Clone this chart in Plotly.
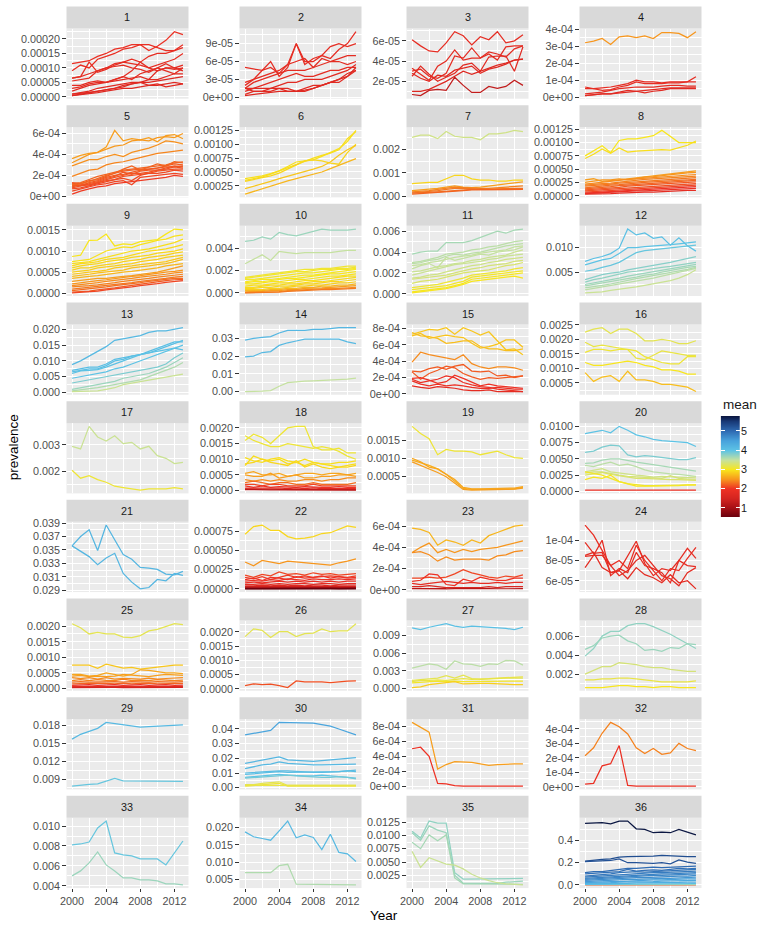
import plotly.graph_objects as go

YEARS = list(range(2000, 2014))

# ---------------- data (values in each panel's unit) ----------------
P1_UNIT = 1e-5
P1_MEAN = [1.95, 1.9, 1.85, 1.85, 1.8, 1.8, 1.75, 1.75, 1.7, 1.7, 1.75, 1.8]
P1_VALS = [
    [11.5, 12, 12.5, 14, 15, 16.5, 17, 18, 18, 16, 17.5, 19.5, 22.5, 21.5],
    [9, 11, 10, 13, 14, 15, 16.5, 17, 18, 18, 17, 16, 16, 18],
    [6.5, 7, 12, 8.5, 9.5, 11, 12, 13, 12, 14, 15, 15, 16, 17],
    [5.5, 6, 6.5, 9, 10, 11.5, 12, 11.5, 11, 10, 11, 12, 13, 15],
    [6.5, 7, 8, 9, 10, 10.5, 11, 10, 9.5, 8.5, 10, 11.5, 10, 11],
    [3, 3.5, 4.5, 5, 5, 6, 7, 9, 12, 10, 9, 10, 10, 9],
    [2, 3, 4, 4.5, 5, 5.5, 6, 6.5, 7, 6, 9, 10, 9.5, 10],
    [1, 1.5, 2, 3, 3.5, 4, 4.5, 5, 5, 6, 6, 7, 8, 8],
    [0.5, 1, 1.5, 2, 2.5, 3, 3.5, 4.5, 5, 5, 5.5, 6, 6.5, 7],
    [0.5, 0.8, 1, 1.5, 2, 2.5, 3, 3, 3.5, 4, 4, 4.5, 5, 4.5],
    [1, 1.2, 1.6, 2, 2.5, 3, 4, 4.5, 5, 4, 4.5, 3.5, 4, 4.5],
    [4, 4, 5, 5.5, 5, 6, 7, 6, 8, 9, 10, 9, 8, 10],
]
P1_TICKS = [0, 5e-5, 1e-4, 1.5e-4, 2e-4]
P1_LABELS = ["0.00000", "0.00005", "0.00010", "0.00015", "0.00020"]

P2_UNIT = 1e-5
P2_MEAN = [1.85, 1.85, 1.8, 1.8, 1.8, 1.75, 1.75, 1.75, 1.7]
P2_VALS = [
    [5, 4.8, 4.5, 5, 4, 5.5, 9, 6, 6, 7, 6.5, 8, 9, 11],
    [2.5, 3, 4.5, 6, 3.5, 5, 9, 5.5, 6.5, 7, 8.5, 9, 8.5, 9],
    [2, 3, 3.5, 4, 4.5, 5.5, 6, 6.5, 5, 6.5, 6, 6.5, 7, 7],
    [1.5, 2.5, 3, 3.5, 4, 4.5, 4.5, 4.5, 5, 5.5, 6, 6, 5.5, 6],
    [1.5, 1.5, 2, 2.5, 3, 3.5, 4, 3.5, 3.5, 4, 4.5, 4.5, 5, 5],
    [1, 1.5, 1.5, 1.5, 2, 2.5, 2.5, 3, 3, 3, 3.5, 4, 4.5, 5.5],
    [0.5, 1, 1, 1.5, 1.5, 1.5, 1, 1.5, 2, 2, 2.5, 3, 4, 4.5],
    [1.5, 1, 1, 1, 1.5, 1, 1, 1, 1.5, 2, 2.5, 2.5, 3.5, 4.5],
    [0.3, 0.5, 0.7, 0.8, 1, 1, 1, 1.2, 1.5, 2, 2.5, 3, 3.5, 5],
]
P2_TICKS = [0, 3e-5, 6e-5, 9e-5]
P2_LABELS = ["0e+00", "3e-05", "6e-05", "9e-05"]

P3_UNIT = 1e-5
P3_MEAN = [1.85, 1.8, 1.8, 1.75, 1.75, 1.7, 1.3]
P3_VALS = [
    [6.1, 5.5, 5, 4.9, 5.8, 6.9, 6.5, 5.6, 6.4, 6.1, 6.9, 5.8, 6, 6.6],
    [3.3, 2.7, 2.1, 3.5, 4, 5.1, 4.1, 4.3, 4.3, 4.7, 4.1, 5.4, 5.5, 5.5],
    [3, 3.2, 2.5, 2.3, 2.8, 4.5, 4.3, 5.3, 4.3, 4.9, 4.7, 4.4, 5.2, 5.5],
    [2.5, 3.5, 2.7, 2, 2.4, 2.8, 3.6, 3.8, 3, 4.4, 4.5, 4.5, 3, 5.4],
    [2.8, 2.3, 2, 2.6, 2.5, 3.1, 3.3, 3.5, 2.8, 3.2, 3.4, 3.7, 4.1, 4.2],
    [1, 1, 1.2, 1.6, 2, 2.5, 3, 2.7, 3, 3.3, 3.6, 3.8, 4.1, 4.2],
    [0.7, 0.6, 1.1, 1.2, 1.1, 2.4, 1.6, 0.9, 0.9, 1.5, 1.3, 1.5, 2.1, 1.6],
]
P3_TICKS = [2e-5, 4e-5, 6e-5]
P3_LABELS = ["2e-05", "4e-05", "6e-05"]

P4_UNIT = 1e-5
P4_MEAN = [2.5, 1.85, 1.85, 1.8, 1.75, 1.75]
P4_VALS = [
    [32, 33, 34.5, 31, 35.5, 36, 35, 36, 34.5, 38, 38, 37.5, 35, 38.5],
    [5, 5, 5.5, 6, 7, 8, 10, 9, 9, 8.5, 9, 9, 9, 12],
    [6, 5, 4, 4.5, 6, 7, 9, 8, 8, 8, 8.5, 8.5, 9, 9],
    [2, 2.5, 3, 4, 5, 5.5, 6, 6, 6, 6.5, 7, 7, 6.5, 6.5],
    [1, 1.5, 2, 2, 3, 4, 3.5, 2.5, 3.5, 4, 5, 5, 5, 5],
    [1, 1.5, 2, 2, 2.5, 3, 3.5, 4, 4.5, 5, 5.5, 5.5, 5.5, 5.5],
]
P4_TICKS = [0, 1e-4, 2e-4, 3e-4, 4e-4]
P4_LABELS = ["0e+00", "1e-04", "2e-04", "3e-04", "4e-04"]

P5_UNIT = 1e-4
P5_MEAN = [2.55, 2.52, 2.47, 2.42, 2.25, 2.22, 2.2, 2.18, 2.17, 2.15, 2.12, 2.1, 2.05, 2.25]
P5_VALS = [
    [3.6, 3.9, 4.1, 4.2, 4.7, 6.3, 5.3, 5.5, 5.4, 5.6, 5.2, 5.8, 5.9, 5.5],
    [3.2, 3.6, 4, 4.2, 4.5, 4.8, 4.9, 5.3, 5.4, 5.3, 5.6, 5.7, 5.6, 6.0],
    [2.9, 3.2, 3.5, 3.5, 3.8, 4.0, 3.8, 4.2, 4.4, 4.6, 4.9, 5.3, 5.2, 5.0],
    [1.9, 2.2, 2.5, 2.6, 3.0, 3.2, 3.3, 3.5, 3.7, 3.9, 4.1, 4.2, 4.3, 4.4],
    [1.2, 1.3, 1.6, 1.9, 2.1, 2.3, 2.5, 2.6, 2.7, 2.8, 2.9, 3.0, 3.2, 3.3],
    [1.0, 1.2, 1.5, 1.6, 1.9, 2.2, 2.4, 2.5, 2.6, 2.6, 2.7, 2.9, 3.1, 3.0],
    [1.1, 1.0, 1.3, 1.5, 1.8, 2.0, 2.1, 2.3, 2.5, 2.6, 2.7, 2.8, 2.8, 2.9],
    [0.9, 1.1, 1.2, 1.4, 1.7, 1.9, 2.3, 2.1, 2.4, 2.5, 2.5, 2.7, 2.9, 2.8],
    [1.3, 1.2, 1.1, 1.3, 1.6, 1.8, 2.0, 2.2, 2.2, 2.3, 2.5, 2.6, 2.8, 2.7],
    [0.8, 1.0, 1.1, 1.3, 1.5, 1.6, 1.9, 2.0, 2.1, 2.2, 2.4, 2.5, 2.6, 2.6],
    [0.7, 0.8, 1.0, 1.2, 1.4, 1.6, 1.7, 1.5, 2.0, 2.2, 2.2, 2.3, 2.5, 2.4],
    [0.5, 0.7, 0.9, 1.1, 1.2, 1.4, 1.5, 1.1, 1.8, 1.9, 2.0, 2.1, 2.2, 2.1],
    [0.2, 0.5, 0.7, 0.9, 1.0, 1.2, 1.3, 1.4, 1.5, 1.6, 1.7, 1.8, 2.0, 1.9],
    [1.1, 1.2, 1.4, 1.7, 2.0, 2.2, 2.6, 2.9, 2.5, 2.8, 3.1, 2.9, 3.3, 3.2],
]
P5_TICKS = [0, 2e-4, 4e-4, 6e-4]
P5_LABELS = ["0e+00", "2e-04", "4e-04", "6e-04"]

P6_UNIT = 1e-5
P6_MEAN = [2.97, 2.95, 2.9, 2.8, 2.7]
P6_VALS = [
    [38, 40, 43, 47, 52, 60, 68, 70, 72, 78, 85, 92, 105, 125],
    [35, 38, 41, 46, 52, 58, 64, 69, 75, 80, 84, 90, 110, 123],
    [33, 36, 39, 43, 48, 55, 62, 70, 72, 70, 66, 64, 85, 100],
    [20, 24, 28, 33, 38, 42, 46, 50, 55, 60, 68, 80, 90, 98],
    [10, 15, 20, 25, 30, 34, 38, 42, 46, 50, 56, 62, 68, 74],
]
P6_TICKS = [0.00025, 0.0005, 0.00075, 0.001, 0.00125]
P6_LABELS = ["0.00025", "0.00050", "0.00075", "0.00100", "0.00125"]

P7_UNIT = 1e-4
P7_MEAN = [3.4, 2.9, 2.55, 2.4, 2.35, 2.3, 2.25]
P7_VALS = [
    [25, 26, 26, 24.5, 27.5, 25.5, 25, 25, 24, 26.5, 26.5, 27, 28, 27.5],
    [5.5, 5.8, 6, 6, 7.5, 9, 9, 7.5, 7, 7, 6.5, 6.5, 7, 7],
    [2.5, 2.8, 3, 3.5, 4, 4.5, 4, 3.8, 4, 4.5, 5, 5.5, 6, 6.2],
    [2, 2.2, 2.5, 3, 3.5, 4, 3.8, 3.5, 3.5, 3.5, 3.8, 4, 4.2, 4.5],
    [1.5, 1.8, 2, 2.5, 3, 3.5, 3.5, 3.3, 3.2, 3, 3.2, 3.5, 3.5, 3.5],
    [1.5, 1.5, 1.8, 2, 2.3, 2.5, 2.8, 3, 3, 3, 3, 3, 3.2, 3.2],
    [1, 1.2, 1.5, 1.8, 2, 2.3, 2.5, 2.8, 2.8, 2.8, 3, 3, 3, 3],
]
P7_TICKS = [0, 0.001, 0.002]
P7_LABELS = ["0.000", "0.001", "0.002"]

P8_UNIT = 1e-5
P8_MEAN = [3.0, 2.95, 2.55, 2.5, 2.45, 2.4, 2.35, 2.3, 2.25, 2.2, 2.15, 2.1, 2.0, 1.95, 1.85]
P8_VALS = [
    [75, 85, 94, 81, 104, 107, 107, 110, 113, 123, 112, 100, 100, 100],
    [70, 78, 88, 80, 90, 82, 84, 85, 86, 87, 86, 90, 95, 103],
    [30, 32, 27, 28, 30, 32, 34, 36, 37, 39, 41, 43, 45, 47],
    [25, 28, 30, 30, 32, 30, 33, 35, 36, 38, 39, 41, 43, 44],
    [22, 24, 26, 28, 29, 31, 32, 33, 34, 35, 36, 38, 39, 40],
    [20, 22, 23, 24, 26, 28, 30, 31, 32, 33, 34, 35, 36, 37],
    [18, 19, 21, 22, 24, 25, 27, 28, 29, 30, 31, 32, 33, 34],
    [15, 17, 18, 20, 21, 23, 24, 25, 26, 27, 28, 29, 30, 31],
    [13, 14, 16, 17, 19, 20, 21, 23, 24, 25, 25, 27, 28, 29],
    [11, 12, 14, 15, 16, 18, 19, 20, 21, 22, 23, 24, 25, 26],
    [9, 10, 11, 13, 14, 15, 16, 17, 18, 19, 20, 21, 22, 23],
    [7, 8, 9, 10, 11, 12, 13, 14, 15, 16, 17, 18, 19, 20],
    [5, 6, 7, 8, 9, 10, 11, 12, 12, 13, 14, 15, 16, 17],
    [4, 5, 5, 6, 7, 8, 9, 9, 10, 11, 11, 12, 13, 14],
    [3, 3, 4, 4, 5, 6, 6, 7, 7, 8, 8, 9, 10, 10],
]
P8_TICKS = [0, 0.00025, 0.0005, 0.00075, 0.001, 0.00125]
P8_LABELS = ["0.00000", "0.00025", "0.00050", "0.00075", "0.00100", "0.00125"]

P9_UNIT = 1e-4
P9_MEAN = [3.0, 2.97, 2.95, 2.92, 2.9, 2.87, 2.85, 2.8, 2.75, 2.7, 2.55, 2.5, 2.45, 2.4, 2.35, 2.3, 2.2, 2.1]
P9_VALS = [
    [8.7, 9, 12.5, 12.6, 14, 11.2, 11.7, 11.5, 12.2, 12.5, 12.7, 14, 15.2, 15],
    [7.5, 7.8, 8, 9, 10, 10.5, 11, 10.8, 11.5, 12, 12.5, 12.8, 13.5, 13.8],
    [7, 7.2, 7.5, 8, 8.5, 9, 9.5, 10, 10.2, 10.5, 11, 11.5, 12, 12.8],
    [6.5, 7, 7.2, 7.5, 8, 8.2, 8.5, 9, 9.5, 10, 10.2, 10.5, 11, 11.5],
    [6, 6.5, 6.8, 7, 7.5, 7.8, 8, 8.5, 8.8, 9, 9.5, 9.8, 10, 10.5],
    [5.5, 6, 6, 6.5, 6.8, 7, 7.5, 7.8, 8, 8.5, 8.8, 9, 9.5, 9.8],
    [5, 5.2, 5.5, 6, 6.2, 6.5, 6.8, 7, 7.5, 7.8, 8, 8.5, 8.8, 9],
    [4.5, 4.8, 5, 5.2, 5.5, 6, 6.2, 6.5, 6.8, 7, 7.2, 7.5, 8, 8.5],
    [4, 4.2, 4.5, 4.8, 5, 5.2, 5.5, 6, 6.2, 6.5, 6.8, 7, 7.5, 8],
    [3.5, 3.8, 4, 4.2, 4.5, 4.8, 5, 5.2, 5.5, 5.8, 6, 6.5, 6.8, 7],
    [2.8, 3, 3.2, 3.5, 3.5, 3.8, 4, 4.2, 4.5, 4.8, 5, 5.5, 6, 6.5],
    [2.2, 2.5, 2.8, 3, 3.2, 3.5, 3.8, 4, 4.2, 4.5, 4.8, 5, 5.2, 5.5],
    [1.8, 2, 2.2, 2.5, 2.8, 3, 3.2, 3.5, 3.8, 4, 4.2, 4.5, 4.8, 5],
    [1.5, 1.6, 1.8, 2, 2.2, 2.5, 2.8, 3, 3.2, 3.5, 3.8, 4, 4.2, 4.5],
    [1, 1.2, 1.4, 1.6, 1.8, 2, 2.2, 2.5, 2.8, 3, 3.2, 3.5, 3.8, 4],
    [0.6, 0.8, 1, 1.2, 1.5, 1.8, 2, 2.2, 2.5, 2.8, 3, 3.2, 3.5, 3.5],
    [0.3, 0.4, 0.5, 0.8, 1, 1.3, 1.6, 1.9, 2.2, 2.5, 2.7, 3, 3.2, 3.3],
    [0.1, 0.2, 0.3, 0.5, 0.8, 1, 1.3, 1.5, 1.8, 2, 2.3, 2.6, 2.8, 3],
]
P9_TICKS = [0, 0.0005, 0.001, 0.0015]
P9_LABELS = ["0.0000", "0.0005", "0.0010", "0.0015"]

P10_UNIT = 1e-4
P10_MEAN = [3.7, 3.5, 3.08, 3.06, 3.04, 3.02, 3.0, 2.98, 2.95, 2.92, 2.9, 2.85, 2.7, 2.55, 2.45, 2.35]
P10_VALS = [
    [46, 47, 50, 48, 54, 52, 51, 53, 55, 57, 56, 56, 56, 57],
    [26, 30, 34, 29, 37, 36, 35, 36, 36, 36, 36, 37, 38, 38],
    [14, 15, 16, 17, 18, 19, 20, 21, 21, 22, 22, 23, 24, 24],
    [13, 14, 15, 16, 17, 18, 19, 19, 20, 21, 21, 22, 22, 23],
    [12, 12, 13, 14, 15, 16, 17, 18, 18, 19, 20, 21, 21, 22],
    [10, 11, 12, 12, 13, 14, 15, 16, 16, 17, 18, 19, 20, 21],
    [9, 10, 10, 11, 12, 13, 13, 14, 15, 16, 17, 17, 18, 19],
    [8, 8, 9, 10, 10, 11, 12, 12, 13, 14, 15, 15, 16, 17],
    [6, 7, 7, 8, 9, 9, 10, 11, 11, 12, 13, 14, 15, 15],
    [5, 5, 6, 7, 7, 8, 8, 9, 10, 10, 11, 12, 13, 14],
    [4, 4, 5, 5, 6, 6, 7, 8, 8, 9, 10, 10, 11, 12],
    [3, 3, 3, 4, 4, 5, 6, 6, 7, 7, 8, 9, 9, 10],
    [2, 2, 2, 3, 3, 4, 4, 5, 5, 6, 6, 7, 7, 8],
    [1, 1, 1.5, 2, 2, 3, 3, 4, 4, 4.5, 5, 5.5, 6, 6.5],
    [0.3, 0.5, 0.8, 1, 1.2, 2, 2.5, 3, 3, 3.5, 4, 4, 4.5, 5],
    [0.1, 0.2, 0.3, 0.5, 0.8, 1.5, 2, 2.5, 2.5, 3, 3, 3.5, 3.5, 4],
]
P10_TICKS = [0, 0.002, 0.004]
P10_LABELS = ["0.000", "0.002", "0.004"]

P11_UNIT = 1e-4
P11_MEAN = [3.65, 3.55, 3.55, 3.5, 3.5, 3.45, 3.45, 3.4, 3.35, 3.3, 3.1, 3.05, 3.02, 3.0]
P11_VALS = [
    [38, 40, 41, 41, 49, 49, 49, 51, 54, 57, 60, 58, 61, 62],
    [30, 31, 33, 35, 38, 39, 40, 42, 43, 45, 46, 48, 50, 51],
    [29, 30, 32, 33, 36, 38, 37, 39, 40, 42, 44, 46, 47, 48],
    [27, 28, 30, 31, 33, 35, 36, 37, 39, 40, 41, 42, 45, 46],
    [24, 27, 29, 25, 35, 32, 34, 36, 38, 37, 40, 41, 42, 45],
    [21, 22, 24, 26, 27, 29, 30, 32, 33, 35, 36, 37, 40, 42],
    [18, 20, 22, 24, 26, 28, 29, 30, 31, 33, 34, 36, 37, 38],
    [15, 16, 18, 19, 21, 23, 25, 27, 28, 30, 31, 33, 34, 35],
    [14, 15, 16, 17, 18, 20, 22, 24, 25, 27, 28, 29, 31, 32],
    [10, 12, 13, 14, 16, 18, 20, 21, 22, 23, 25, 27, 28, 30],
    [6, 7, 8, 9, 11, 13, 15, 18, 19, 20, 21, 22, 24, 25],
    [4, 5, 6, 7, 8, 10, 12, 16, 17, 18, 19, 20, 21, 22],
    [2, 3, 4, 5, 6, 8, 10, 14, 15, 16, 17, 18, 19, 20],
    [1, 2, 3, 4, 5, 7, 9, 12, 13, 14, 15, 16, 17, 15],
]
P11_TICKS = [0, 0.002, 0.004, 0.006]
P11_LABELS = ["0.000", "0.002", "0.004", "0.006"]

P12_UNIT = 1e-4
P12_MEAN = [4.05, 4.0, 3.95, 3.8, 3.75, 3.7, 3.65, 3.6, 3.55, 3.45]
P12_VALS = [
    [72, 78, 82, 88, 99, 138, 126, 130, 119, 122, 105, 120, 104, 93],
    [65, 70, 75, 78, 88, 100, 100, 102, 103, 104, 106, 108, 110, 112],
    [52, 55, 60, 64, 70, 80, 90, 94, 96, 98, 100, 102, 103, 105],
    [35, 40, 45, 48, 50, 55, 58, 60, 63, 67, 70, 74, 78, 82],
    [30, 35, 38, 42, 46, 50, 52, 55, 58, 60, 62, 65, 68, 70],
    [25, 28, 32, 35, 38, 42, 45, 48, 50, 54, 57, 60, 63, 66],
    [22, 25, 28, 30, 33, 36, 40, 44, 46, 50, 54, 57, 60, 62],
    [18, 20, 23, 26, 30, 33, 37, 40, 43, 46, 50, 53, 56, 60],
    [14, 17, 20, 22, 25, 28, 32, 35, 38, 42, 46, 50, 55, 58],
    [8, 9, 10, 13, 15, 18, 20, 23, 26, 29, 33, 38, 45, 55],
]
P12_TICKS = [0.005, 0.010]
P12_LABELS = ["0.005", "0.010"]

P13_UNIT = 1e-3
P13_MEAN = [4.15, 4.08, 4.06, 4.03, 4.0, 3.85, 3.7, 3.6, 3.45]
P13_VALS = [
    [8.8, 10, 11.5, 13, 14.5, 16.5, 17, 17.5, 18, 19, 19.5, 19.5, 20, 20.5],
    [7, 7.5, 8, 8, 9, 10.5, 11, 11.5, 12, 12.5, 13.5, 14.5, 15.5, 16.5],
    [6.5, 7, 7.5, 7.5, 8.5, 10, 10.5, 11.5, 12, 13, 14, 15, 16, 16],
    [6, 6.8, 7, 7.2, 8, 9, 10, 11, 12, 12.5, 13, 13.5, 14, 13.5],
    [4.5, 5, 5.5, 6, 6.5, 7.5, 8, 9, 10, 11, 12, 13, 14, 15],
    [3, 3.5, 4, 4.5, 5, 5.5, 6, 6.5, 7, 7.5, 8, 9, 11, 12.5],
    [1, 1.5, 2, 2.5, 3, 3.5, 4.5, 5, 5.5, 6, 7, 8, 9.5, 11],
    [0.5, 0.8, 1, 1.5, 2, 2.5, 3, 3.5, 4, 5, 6, 7, 8, 9.5],
    [0.3, 0.3, 0.5, 0.5, 1, 1.5, 2.5, 3, 3.5, 4, 4.5, 5, 5.5, 5.8],
]
P13_TICKS = [0, 0.005, 0.01, 0.015, 0.02]
P13_LABELS = ["0.000", "0.005", "0.010", "0.015", "0.020"]

P14_UNIT = 1e-3
P14_MEAN = [4.18, 4.15, 3.5]
P14_VALS = [
    [29, 30, 30.5, 31, 33, 34.5, 34.5, 34.5, 35, 35, 35.5, 36, 36, 36],
    [19.5, 20, 22, 22.5, 26, 27.5, 28.5, 29.5, 29.5, 29.5, 29.5, 29.5, 28, 27],
    [0, 0, 0.2, 0.5, 3, 5, 5.5, 5.8, 6, 6.2, 6.5, 6.8, 7, 7.5],
]
P14_TICKS = [0, 0.01, 0.02, 0.03]
P14_LABELS = ["0.00", "0.01", "0.02", "0.03"]

P15_UNIT = 1e-5
P15_MEAN = [2.8, 2.78, 2.75, 2.45, 2.2, 2.2, 2.0, 1.95, 1.95, 1.8]
P15_VALS = [
    [73, 76, 79, 78, 81, 73, 81, 77, 72, 76, 65, 54, 55, 48],
    [71, 74, 68, 70, 72, 70, 69, 62, 56, 58, 61, 66, 66, 57],
    [75, 71, 70, 68, 62, 63, 65, 65, 58, 55, 55, 53, 53, 55],
    [39, 51, 48, 46, 44, 42, 48, 37, 33, 31, 33, 33, 32, 29],
    [28, 27, 31, 33, 30, 34, 36, 28, 27, 28, 22, 23, 20, 22],
    [27, 18, 25, 29, 34, 32, 25, 21, 18, 20, 19, 20, 21, 22],
    [19, 20, 17, 13, 15, 23, 19, 14, 10, 12, 10, 9, 8, 7],
    [16, 12, 10, 12, 10, 11, 10, 8, 7, 7, 8, 7, 6, 6],
    [18, 14, 16, 18, 22, 20, 14, 11, 9, 8, 6, 5, 4, 3],
    [10, 8, 7, 9, 8, 7, 5, 4, 4, 5, 3, 3, 3, 3],
]
P15_TICKS = [0, 2e-4, 4e-4, 6e-4, 8e-4]
P15_LABELS = ["0e+00", "2e-04", "4e-04", "6e-04", "8e-04"]

P16_UNIT = 1e-4
P16_MEAN = [3.2, 3.15, 3.1, 3.0, 2.75]
P16_VALS = [
    [22.5, 23.5, 24, 22, 23.5, 23.5, 22, 19.5, 19.5, 20, 19.5, 18.5, 18.5, 19.5],
    [19, 17.5, 18, 17.5, 17, 16.5, 13.5, 13, 14.5, 16, 15.5, 15, 14.5, 14.5],
    [15.5, 16.5, 16.5, 16, 16.5, 16.5, 16, 14, 13, 12, 11.5, 11.5, 14, 14],
    [12, 11, 11, 11.5, 12, 12.5, 12, 11, 10.5, 9.5, 9.5, 9, 8, 8],
    [8.5, 5.5, 7, 7.5, 5.5, 9, 6, 6, 5.5, 4.5, 4.5, 4, 3.5, 2],
]
P16_TICKS = [0.0005, 0.001, 0.0015, 0.002, 0.0025]
P16_LABELS = ["0.0005", "0.0010", "0.0015", "0.0020", "0.0025"]

P17_UNIT = 1e-4
P17_MEAN = [3.45, 3.1]
P17_VALS = [
    [29.5, 28.5, 37, 33, 31.5, 33.5, 30.5, 31, 28.5, 29.5, 26, 25, 23, 23.5],
    [20.5, 17.5, 18.5, 17, 16, 14.5, 14, 13.5, 13, 13.5, 13.5, 13.5, 14, 13.5],
]
P17_TICKS = [0.002, 0.003]
P17_LABELS = ["0.002", "0.003"]

P18_UNIT = 1e-5
P18_MEAN = [3.1, 3.1, 2.95, 2.95, 2.9, 2.6, 2.55, 2.45, 2.3, 2.1, 2.0, 1.8, 1.5, 1.2]
P18_VALS = [
    [160, 180, 170, 150, 175, 200, 205, 205, 140, 130, 130, 135, 120, 120],
    [175, 160, 150, 140, 140, 150, 145, 140, 135, 140, 135, 125, 110, 100],
    [80, 110, 100, 95, 100, 85, 90, 80, 90, 85, 80, 75, 80, 85],
    [105, 95, 90, 100, 105, 95, 90, 100, 90, 85, 85, 90, 90, 95],
    [85, 90, 100, 90, 85, 80, 95, 75, 85, 75, 70, 75, 75, 80],
    [55, 60, 50, 50, 55, 45, 50, 55, 55, 50, 55, 55, 50, 55],
    [50, 45, 45, 55, 40, 45, 50, 40, 40, 45, 45, 50, 50, 45],
    [35, 30, 35, 30, 35, 30, 30, 35, 35, 30, 35, 35, 40, 40],
    [25, 30, 25, 20, 25, 25, 20, 20, 25, 20, 20, 20, 20, 25],
    [20, 20, 15, 20, 20, 15, 15, 15, 20, 15, 15, 15, 15, 15],
    [15, 10, 15, 10, 12, 10, 10, 12, 10, 10, 10, 12, 10, 10],
    [8, 8, 10, 8, 8, 6, 8, 6, 8, 6, 6, 6, 6, 6],
    [5, 4, 5, 4, 4, 4, 4, 3, 3, 3, 3, 3, 3, 3],
    [3, 2, 2, 2, 2, 2, 1, 1, 2, 1, 1, 1, 1, 1],
]
P18_TICKS = [0, 0.0005, 0.001, 0.0015, 0.002]
P18_LABELS = ["0.0000", "0.0005", "0.0010", "0.0015", "0.0020"]

P19_UNIT = 1e-5
P19_MEAN = [3.1, 2.65, 2.6, 2.55]
P19_VALS = [
    [190, 170, 155, 110, 125, 120, 120, 118, 110, 115, 120, 110, 102, 100],
    [95, 88, 80, 70, 55, 35, 15, 12, 12, 12, 12, 12, 14, 18],
    [100, 90, 75, 70, 55, 40, 18, 14, 14, 14, 14, 14, 16, 20],
    [90, 80, 72, 60, 48, 30, 12, 10, 10, 10, 11, 12, 13, 16],
]
P19_TICKS = [0.0005, 0.001, 0.0015, 0.002]
P19_LABELS = ["0.0005", "0.0010", "0.0015", "0.0020"]

P20_UNIT = 1e-4
P20_MEAN = [4.0, 3.85, 3.65, 3.55, 3.4, 3.35, 3.3, 3.0, 3.05, 2.0]
P20_VALS = [
    [89, 91, 94, 90, 100, 94, 87, 84, 80, 78, 77, 76, 75, 69],
    [60, 62, 68, 71, 70, 56, 53, 55, 54, 52, 51, 49, 49, 52],
    [43, 44, 48, 50, 50, 47, 45, 43, 41, 38, 37, 35, 33, 31],
    [40, 38, 42, 45, 40, 42, 38, 33, 30, 28, 27, 26, 24, 23],
    [30, 32, 35, 30, 28, 26, 25, 24, 22, 23, 22, 22, 21, 22],
    [28, 30, 30, 27, 25, 23, 22, 21, 20, 20, 24, 20, 19, 19],
    [25, 27, 29, 26, 24, 22, 20, 20, 19, 19, 18, 18, 17, 17],
    [18, 22, 20, 25, 15, 12, 8, 8, 8, 8, 9, 9, 10, 10],
    [30, 28, 25, 20, 15, 12, 10, 9, 9, 9, 9, 10, 10, 10],
    [2, 2, 2, 2, 2, 2, 1.8, 1.8, 1.8, 1.8, 1.8, 1.8, 1.8, 1.8],
]
P20_TICKS = [0, 0.0025, 0.005, 0.0075, 0.01]
P20_LABELS = ["0.0000", "0.0025", "0.0050", "0.0075", "0.0100"]

P21_UNIT = 1e-3
P21_MEAN = [4.2, 4.2]
P21_VALS = [
    [35.6, 37.0, 38.0, 34.9, 38.7, 36.6, 34.3, 33.6, 32.4, 32.3, 32.1, 31.4, 31.3, 31.8],
    [35.6, 34.8, 34.0, 32.8, 33.8, 34.5, 31.5, 30.2, 29.2, 29.4, 30.6, 30.4, 31.5, 31.2],
]
P21_TICKS = [0.029, 0.031, 0.033, 0.035, 0.037, 0.039]
P21_LABELS = ["0.029", "0.031", "0.033", "0.035", "0.037", "0.039"]

P22_UNIT = 1e-5
P22_MEAN = [2.9, 2.5, 2.1, 2.05, 2.0, 1.95, 1.9, 1.8, 1.7, 1.5, 1.35, 1.2, 0.9, 0.7, 0.55]
P22_VALS = [
    [71, 81, 83, 76, 76, 68, 65, 66, 68, 72, 73, 78, 82, 80],
    [35, 30, 37, 35, 33, 36, 35, 34, 33, 32, 31, 34, 36, 39],
    [18, 15, 19, 17, 22, 19, 20, 18, 21, 19, 20, 18, 19, 20],
    [15, 13, 16, 12, 15, 18, 15, 17, 15, 16, 17, 16, 15, 17],
    [12, 14, 11, 15, 14, 12, 16, 14, 15, 17, 14, 16, 14, 15],
    [10, 11, 10, 12, 11, 13, 12, 11, 13, 12, 12, 13, 12, 13],
    [8, 9, 8, 9, 10, 9, 10, 9, 10, 9, 10, 9, 10, 10],
    [6, 6, 7, 6, 7, 6, 7, 7, 6, 7, 7, 6, 7, 7],
    [4, 4, 5, 4, 5, 4, 5, 4, 5, 5, 4, 5, 5, 5],
    [3, 2.8, 3, 3.2, 3, 2.9, 3, 3.1, 3, 2.9, 3, 3, 3.1, 3],
    [2.2, 2.1, 2.3, 2.2, 2.1, 2.2, 2.3, 2.2, 2.1, 2.2, 2.3, 2.2, 2.2, 2.1],
    [1.5, 1.6, 1.5, 1.7, 1.6, 1.5, 1.6, 1.7, 1.6, 1.5, 1.6, 1.7, 1.6, 1.6],
    [0.9, 1.0, 0.9, 1.0, 0.9, 1.0, 0.9, 1.0, 0.9, 1.0, 0.9, 1.0, 0.9, 1.0],
    [0.5, 0.6, 0.5, 0.6, 0.5, 0.6, 0.5, 0.5, 0.6, 0.5, 0.6, 0.5, 0.5, 0.6],
    [0.1, 0.1, 0.2, 0.1, 0.1, 0.2, 0.1, 0.1, 0.1, 0.2, 0.1, 0.1, 0.1, 0.1],
]
P22_TICKS = [0, 0.00025, 0.0005, 0.00075]
P22_LABELS = ["0.00000", "0.00025", "0.00050", "0.00075"]

P23_UNIT = 1e-5
P23_MEAN = [2.7, 2.5, 2.45, 2.1, 2.0, 1.85, 1.6, 1.2]
P23_VALS = [
    [58, 57, 54, 42, 47, 45, 42, 47, 44, 51, 54, 57, 60, 61],
    [35, 40, 44, 35, 38, 35, 38, 36, 38, 39, 40, 42, 44, 46],
    [35, 36, 33, 27, 31, 28, 29, 29, 29, 28, 32, 33, 36, 37],
    [11, 11, 12, 11, 12, 15, 19, 16, 14, 12, 11, 13, 12, 14],
    [8, 9, 15, 14, 5, 4, 10, 8, 12, 10, 9, 9, 11, 11],
    [6, 5, 6, 7, 8, 7, 6, 7, 6, 6, 7, 6, 7, 7],
    [3, 3, 4, 3, 2, 2, 2, 2, 2, 3, 2, 3, 3, 3],
    [1.2, 1, 1.1, 0.9, 1, 1.2, 1, 0.9, 1, 1.1, 1, 0.9, 1, 1],
]
P23_TICKS = [0, 2e-4, 4e-4, 6e-4]
P23_LABELS = ["0e+00", "2e-04", "4e-04", "6e-04"]

P24_UNIT = 1e-6
P24_MEAN = [1.9, 1.85, 1.85, 1.8, 1.8]
P24_VALS = [
    [115, 105, 90, 75, 80, 72, 95, 80, 70, 60, 72, 70, 82, 93],
    [98, 87, 88, 68, 70, 85, 99, 77, 65, 72, 70, 80, 92, 82],
    [84, 85, 100, 65, 72, 68, 88, 75, 72, 68, 58, 80, 75, 74],
    [73, 85, 85, 75, 65, 70, 80, 85, 75, 65, 62, 55, 68, 73],
    [85, 88, 73, 68, 70, 62, 73, 66, 63, 58, 66, 58, 60, 52],
]
P24_TICKS = [6e-5, 8e-5, 1e-4]
P24_LABELS = ["6e-05", "8e-05", "1e-04"]

P25_UNIT = 1e-5
P25_MEAN = [3.2, 2.8, 2.6, 2.55, 2.45, 2.4, 2.3, 2.25, 2.0, 1.8, 1.5]
P25_VALS = [
    [208, 195, 175, 180, 175, 175, 165, 163, 170, 185, 190, 200, 208, 205],
    [75, 75, 75, 65, 78, 72, 65, 68, 62, 65, 68, 72, 75, 75],
    [45, 45, 40, 42, 50, 45, 40, 45, 60, 58, 55, 50, 50, 48],
    [40, 42, 38, 40, 38, 40, 45, 42, 40, 38, 42, 45, 44, 42],
    [35, 32, 35, 30, 35, 30, 32, 30, 30, 33, 30, 32, 34, 35],
    [25, 28, 25, 28, 26, 25, 30, 25, 27, 25, 28, 26, 25, 27],
    [20, 22, 20, 21, 20, 22, 20, 22, 21, 20, 22, 21, 20, 22],
    [15, 16, 15, 17, 16, 15, 17, 15, 16, 17, 15, 16, 17, 16],
    [10, 11, 12, 10, 11, 12, 10, 11, 12, 10, 11, 12, 10, 11],
    [6, 7, 6, 7, 6, 7, 6, 7, 6, 7, 6, 7, 6, 7],
    [3, 3.5, 3, 3.2, 3, 3.4, 3, 3.2, 3, 3.5, 3, 3.2, 3, 3.3],
]
P25_TICKS = [0, 0.0005, 0.001, 0.0015, 0.002]
P25_LABELS = ["0.0000", "0.0005", "0.0010", "0.0015", "0.0020"]

P26_UNIT = 1e-5
P26_MEAN = [3.2, 2.15]
P26_VALS = [
    [183, 210, 205, 180, 200, 200, 183, 193, 195, 210, 200, 203, 203, 228],
    [12, 18, 15, 17, 12, 5, 28, 25, 25, 25, 22, 25, 27, 28],
]
P26_TICKS = [0, 0.0005, 0.001, 0.0015, 0.002]
P26_LABELS = ["0.0000", "0.0005", "0.0010", "0.0015", "0.0020"]

P27_UNIT = 1e-4
P27_MEAN = [4.05, 3.55, 3.2, 3.15, 3.05, 2.85]
P27_VALS = [
    [103, 100, 104, 107, 110, 106, 104, 106, 105, 105, 104, 102, 100, 104],
    [35, 38, 42, 40, 33, 47, 42, 41, 38, 42, 41, 48, 47, 40],
    [14, 15, 17, 18, 22, 18, 23, 17, 16, 17, 18, 18, 18, 18],
    [12, 14, 14, 15, 14, 15, 17, 16, 16, 17, 18, 19, 20, 20],
    [10, 11, 12, 13, 12, 13, 12, 12, 12, 12, 13, 13, 13, 13],
    [2, 3, 7, 9, 10, 12, 8, 9, 9, 9, 8, 8, 7, 7],
]
P27_TICKS = [0, 0.003, 0.006, 0.009]
P27_LABELS = ["0.000", "0.003", "0.006", "0.009"]

P28_UNIT = 1e-4
P28_MEAN = [3.75, 3.7, 3.35, 3.15, 3.0]
P28_VALS = [
    [39, 47, 60, 65, 65, 71, 73, 73, 70, 66, 62, 57, 52, 47],
    [46, 50, 58, 60, 61, 55, 52, 45, 46, 44, 48, 47, 52, 51],
    [20, 24, 28, 28, 32, 31, 30, 28, 27, 27, 25, 24, 23, 23],
    [14, 14, 15, 15, 16, 16, 15, 14, 13, 12, 12, 12, 12, 13],
    [6, 6, 6, 7, 8, 8, 7, 7, 6, 7, 7, 6, 6, 6],
]
P28_TICKS = [0.002, 0.004, 0.006]
P28_LABELS = ["0.002", "0.004", "0.006"]

P29_UNIT = 1e-4
P29_MEAN = [4.15, 3.95]
P29_VALS = [
    [157, 165, 170, 175, 185, 183, 180, 178, 177, 178, 179, 179, 180, 181],
    [78, 80, 81, 82, 86, 91, 87, 87, 86, 86, 86, 87, 87, 86],
]
P29_TICKS = [0.009, 0.012, 0.015, 0.018]
P29_LABELS = ["0.009", "0.012", "0.015", "0.018"]

P30_UNIT = 1e-3
P30_MEAN = [4.45, 4.2, 4.15, 4.1, 4.08, 4.0, 3.9, 3.2, 3.1, 3.15]
P30_VALS = [
    [36, 37, 38, 39, 44.5, 44.5, 44.5, 44.3, 44, 43, 42, 40, 38, 36],
    [16.5, 17.5, 18.5, 19.5, 21, 19, 18.5, 18, 18, 18.5, 19, 19.5, 20, 20.5],
    [13, 14.5, 15.5, 16, 17.5, 16.5, 16, 15.5, 15.5, 15.5, 15.5, 15.5, 16, 16],
    [10, 10.5, 11, 11, 11.5, 11.5, 11, 10.5, 10.5, 10.5, 10.5, 11, 11.5, 12],
    [9, 9.5, 10, 10.5, 11, 10.5, 10.5, 10.5, 10.5, 10.5, 11, 11, 11.5, 11],
    [7, 7.5, 8, 8, 9, 8.5, 8, 8, 8, 8.5, 8, 7.5, 7.5, 6.5],
    [6.5, 7, 7.5, 8, 8, 8.5, 8, 7.5, 7, 7, 7, 7.5, 7, 6],
    [2, 2, 3, 3.5, 4, 1.5, 1.5, 1.5, 1.5, 1.5, 1.5, 1.5, 1.5, 1.5],
    [1, 1.5, 2, 2.5, 3, 1, 1, 1, 1, 1, 1, 1, 1, 1],
    [1.5, 1.6, 1.5, 1.6, 1.5, 1.6, 1.5, 1.6, 1.5, 1.6, 1.5, 1.6, 1.5, 1.6],
]
P30_TICKS = [0, 0.01, 0.02, 0.03, 0.04]
P30_LABELS = ["0.00", "0.01", "0.02", "0.03", "0.04"]

P31_UNIT = 1e-6
P31_MEAN = [2.55, 2.0]
P31_VALS = [
    [850, 780, 720, 230, 290, 330, 330, 320, 300, 280, 290, 300, 300, 300],
    [500, 520, 400, 40, 35, 10, 5, 3, 3, 3, 3, 3, 3, 3],
]
P31_TICKS = [0, 2e-4, 4e-4, 6e-4, 8e-4]
P31_LABELS = ["0e+00", "2e-04", "4e-04", "6e-04", "8e-04"]

P32_UNIT = 1e-6
P32_MEAN = [2.4, 1.95]
P32_VALS = [
    [215, 270, 370, 445, 415, 365, 270, 230, 265, 225, 235, 300, 265, 250],
    [20, 25, 145, 160, 285, 10, 5, 5, 5, 5, 5, 5, 5, 5],
]
P32_TICKS = [0, 1e-4, 2e-4, 3e-4, 4e-4]
P32_LABELS = ["0e+00", "1e-04", "2e-04", "3e-04", "4e-04"]

P33_UNIT = 1e-4
P33_MEAN = [3.95, 3.7]
P33_VALS = [
    [81, 82, 84, 98, 105, 73, 71, 70, 67, 67, 67, 61, 73, 85],
    [50, 55, 63, 74, 61, 55, 48, 48, 46, 46, 45, 42, 42, 41],
]
P33_TICKS = [0.004, 0.006, 0.008, 0.010]
P33_LABELS = ["0.004", "0.006", "0.008", "0.010"]

P34_UNIT = 1e-4
P34_MEAN = [4.15, 3.6]
P34_VALS = [
    [187, 173, 168, 163, 190, 218, 170, 178, 171, 136, 180, 128, 124, 102],
    [70, 70, 71, 70, 90, 94, 37, 37, 36, 36, 36, 36, 36, 35],
]
P34_TICKS = [0.005, 0.010, 0.015, 0.020]
P34_LABELS = ["0.005", "0.010", "0.015", "0.020"]

P35_UNIT = 1e-4
P35_MEAN = [3.75, 3.7, 3.65, 3.45]
P35_VALS = [
    [108, 95, 127, 123, 123, 30, 18, 18, 18, 18, 18, 19, 19, 19],
    [105, 91, 118, 110, 105, 25, 10, 10, 10, 10, 10, 12, 13, 14],
    [87, 75, 101, 90, 101, 20, 9, 9, 9, 9, 9, 9, 8, 8],
    [70, 40, 58, 52, 46, 44, 37, 27, 20, 15, 11, 9, 8, 7],
]
P35_TICKS = [0, 0.0025, 0.005, 0.0075, 0.01, 0.0125]
P35_LABELS = ["0.0000", "0.0025", "0.0050", "0.0075", "0.0100", "0.0125"]

P36_UNIT = 1.0
P36_MEAN = [2.1, 3.6, 5.77, 5.3, 5.25, 5.0, 4.95, 4.9, 4.85, 4.8, 4.75, 4.7, 4.6, 4.5, 4.4, 4.3, 4.1]
P36_VALS = [
    [0.0005, 0.0006, 0.0005, 0.0006, 0.0005, 0.0006, 0.0005, 0.0006, 0.0005, 0.0006, 0.0005, 0.0006, 0.0005, 0.0006],
    [0.002, 0.002, 0.0025, 0.002, 0.0025, 0.003, 0.0025, 0.003, 0.003, 0.003, 0.0035, 0.003, 0.0035, 0.0035],
    [0.555, 0.555, 0.56, 0.55, 0.575, 0.575, 0.505, 0.5, 0.47, 0.475, 0.47, 0.5, 0.475, 0.45],
    [0.215, 0.225, 0.23, 0.235, 0.25, 0.255, 0.255, 0.26, 0.26, 0.265, 0.26, 0.255, 0.255, 0.255],
    [0.21, 0.215, 0.215, 0.22, 0.235, 0.2, 0.2, 0.195, 0.195, 0.2, 0.19, 0.225, 0.205, 0.195],
    [0.11, 0.12, 0.12, 0.13, 0.14, 0.15, 0.15, 0.155, 0.16, 0.155, 0.16, 0.165, 0.17, 0.17],
    [0.1, 0.105, 0.11, 0.115, 0.12, 0.14, 0.125, 0.13, 0.135, 0.13, 0.14, 0.15, 0.145, 0.15],
    [0.08, 0.085, 0.09, 0.1, 0.11, 0.115, 0.12, 0.115, 0.12, 0.125, 0.13, 0.13, 0.135, 0.14],
    [0.07, 0.075, 0.08, 0.085, 0.09, 0.1, 0.1, 0.105, 0.11, 0.11, 0.115, 0.12, 0.12, 0.125],
    [0.06, 0.065, 0.07, 0.075, 0.08, 0.085, 0.09, 0.09, 0.095, 0.1, 0.1, 0.105, 0.11, 0.11],
    [0.05, 0.055, 0.06, 0.065, 0.07, 0.075, 0.075, 0.08, 0.085, 0.085, 0.09, 0.09, 0.095, 0.1],
    [0.04, 0.045, 0.045, 0.05, 0.055, 0.06, 0.065, 0.065, 0.07, 0.07, 0.075, 0.08, 0.08, 0.085],
    [0.03, 0.035, 0.035, 0.04, 0.045, 0.05, 0.05, 0.055, 0.055, 0.06, 0.06, 0.065, 0.065, 0.07],
    [0.02, 0.025, 0.025, 0.03, 0.03, 0.035, 0.04, 0.04, 0.045, 0.045, 0.05, 0.05, 0.055, 0.055],
    [0.015, 0.015, 0.02, 0.02, 0.025, 0.025, 0.03, 0.03, 0.03, 0.035, 0.035, 0.04, 0.04, 0.04],
    [0.01, 0.01, 0.012, 0.012, 0.015, 0.015, 0.018, 0.018, 0.02, 0.02, 0.022, 0.022, 0.025, 0.025],
    [0.005, 0.005, 0.006, 0.006, 0.007, 0.007, 0.008, 0.008, 0.009, 0.009, 0.01, 0.01, 0.011, 0.011],
]
P36_TICKS = [0, 0.2, 0.4]
P36_LABELS = ["0.0", "0.2", "0.4"]

PANELS = [
    (P1_UNIT, P1_MEAN, P1_VALS, P1_TICKS, P1_LABELS),
    (P2_UNIT, P2_MEAN, P2_VALS, P2_TICKS, P2_LABELS),
    (P3_UNIT, P3_MEAN, P3_VALS, P3_TICKS, P3_LABELS),
    (P4_UNIT, P4_MEAN, P4_VALS, P4_TICKS, P4_LABELS),
    (P5_UNIT, P5_MEAN, P5_VALS, P5_TICKS, P5_LABELS),
    (P6_UNIT, P6_MEAN, P6_VALS, P6_TICKS, P6_LABELS),
    (P7_UNIT, P7_MEAN, P7_VALS, P7_TICKS, P7_LABELS),
    (P8_UNIT, P8_MEAN, P8_VALS, P8_TICKS, P8_LABELS),
    (P9_UNIT, P9_MEAN, P9_VALS, P9_TICKS, P9_LABELS),
    (P10_UNIT, P10_MEAN, P10_VALS, P10_TICKS, P10_LABELS),
    (P11_UNIT, P11_MEAN, P11_VALS, P11_TICKS, P11_LABELS),
    (P12_UNIT, P12_MEAN, P12_VALS, P12_TICKS, P12_LABELS),
    (P13_UNIT, P13_MEAN, P13_VALS, P13_TICKS, P13_LABELS),
    (P14_UNIT, P14_MEAN, P14_VALS, P14_TICKS, P14_LABELS),
    (P15_UNIT, P15_MEAN, P15_VALS, P15_TICKS, P15_LABELS),
    (P16_UNIT, P16_MEAN, P16_VALS, P16_TICKS, P16_LABELS),
    (P17_UNIT, P17_MEAN, P17_VALS, P17_TICKS, P17_LABELS),
    (P18_UNIT, P18_MEAN, P18_VALS, P18_TICKS, P18_LABELS),
    (P19_UNIT, P19_MEAN, P19_VALS, P19_TICKS, P19_LABELS),
    (P20_UNIT, P20_MEAN, P20_VALS, P20_TICKS, P20_LABELS),
    (P21_UNIT, P21_MEAN, P21_VALS, P21_TICKS, P21_LABELS),
    (P22_UNIT, P22_MEAN, P22_VALS, P22_TICKS, P22_LABELS),
    (P23_UNIT, P23_MEAN, P23_VALS, P23_TICKS, P23_LABELS),
    (P24_UNIT, P24_MEAN, P24_VALS, P24_TICKS, P24_LABELS),
    (P25_UNIT, P25_MEAN, P25_VALS, P25_TICKS, P25_LABELS),
    (P26_UNIT, P26_MEAN, P26_VALS, P26_TICKS, P26_LABELS),
    (P27_UNIT, P27_MEAN, P27_VALS, P27_TICKS, P27_LABELS),
    (P28_UNIT, P28_MEAN, P28_VALS, P28_TICKS, P28_LABELS),
    (P29_UNIT, P29_MEAN, P29_VALS, P29_TICKS, P29_LABELS),
    (P30_UNIT, P30_MEAN, P30_VALS, P30_TICKS, P30_LABELS),
    (P31_UNIT, P31_MEAN, P31_VALS, P31_TICKS, P31_LABELS),
    (P32_UNIT, P32_MEAN, P32_VALS, P32_TICKS, P32_LABELS),
    (P33_UNIT, P33_MEAN, P33_VALS, P33_TICKS, P33_LABELS),
    (P34_UNIT, P34_MEAN, P34_VALS, P34_TICKS, P34_LABELS),
    (P35_UNIT, P35_MEAN, P35_VALS, P35_TICKS, P35_LABELS),
    (P36_UNIT, P36_MEAN, P36_VALS, P36_TICKS, P36_LABELS),
]

X_TICKS = [2000, 2004, 2008, 2012]
X_MINOR = [2002, 2006, 2010]
LEGEND_TICKS = [1, 2, 3, 4, 5]

# ---------------- style ----------------
CMIN, CMAX = 0.52, 5.77
CSTOPS = [
    (0.52, "#67000d"), (1.0, "#a50f15"), (1.5, "#d42420"), (2.0, "#ee3124"),
    (2.5, "#f7961d"), (3.0, "#f8e61c"), (3.5, "#c5e1a0"), (4.0, "#5dc3e5"),
    (4.5, "#48a2dc"), (5.0, "#2f6bb3"), (5.5, "#183a78"), (5.77, "#0b1742"),
]


def _rgb(h):
    h = h.lstrip("#")
    return tuple(int(h[i:i + 2], 16) for i in (0, 2, 4))


def cmap(v):
    v = max(CMIN, min(CMAX, v))
    for (a, ca), (b, cb) in zip(CSTOPS[:-1], CSTOPS[1:]):
        if a <= v <= b:
            t = (v - a) / (b - a)
            r0, g0, b0 = _rgb(ca)
            r1, g1, b1 = _rgb(cb)
            return "rgb(%d,%d,%d)" % (round(r0 + t * (r1 - r0)), round(g0 + t * (g1 - g0)), round(b0 + t * (b1 - b0)))
    return CSTOPS[-1][1]


FW, FH = 763, 926
COL_X0 = [66.5, 239.5, 406.5, 579.5]
PANEL_W = 122.0
ROW_Y0 = 6.5
ROW_PITCH = 98.67
STRIP_H = 22.0
PANEL_H = 70.2
FONT = "Liberation Sans, Arial, sans-serif"
TICK_FONT = dict(family=FONT, size=10.8, color="#4D4D4D")

# colour-legend geometry (pixels)
LEG_X0, LEG_X1 = 720.7, 740.0
LEG_Y0, LEG_Y1 = 416.0, 517.0

fig = go.Figure()
shapes, annotations = [], []
layout_axes = {}

for i, (unit, means, vals, ticks, labels) in enumerate(PANELS):
    n = i + 1
    r, c = divmod(i, 4)
    x0 = COL_X0[c]
    x1 = x0 + PANEL_W
    st = ROW_Y0 + r * ROW_PITCH
    pt = st + STRIP_H
    pb = pt + PANEL_H
    sfx = "" if n == 1 else str(n)

    ys = [[v * unit for v in row] for row in vals]
    lo = min(min(y) for y in ys)
    hi = max(max(y) for y in ys)
    pad = 0.05 * (hi - lo)
    yr = [lo - pad, hi + pad]

    for m, y in zip(means, ys):
        fig.add_trace(go.Scatter(
            x=YEARS, y=y, mode="lines",
            line=dict(color=cmap(m), width=1.25),
            xaxis="x" + sfx, yaxis="y" + sfx,
            showlegend=False, hoverinfo="skip",
        ))

    step = ticks[1] - ticks[0]
    minors = [t - step / 2 for t in ticks] + [ticks[-1] + step / 2]
    minors = [v for v in minors if yr[0] <= v <= yr[1]]

    bottom = (r == 8)
    layout_axes["xaxis" + sfx] = dict(
        domain=[x0 / FW, x1 / FW], anchor="y" + sfx,
        range=[1999.35, 2013.65], tickmode="array", tickvals=X_TICKS,
        ticktext=[str(t) for t in X_TICKS],
        showticklabels=bottom, ticks="outside" if bottom else "",
        ticklen=3.3, tickwidth=1.1, tickcolor="#333333", tickfont=TICK_FONT,
        showgrid=True, gridcolor="white", gridwidth=1.25,
        zeroline=False, showline=False, fixedrange=True,
        minor=dict(tickmode="array", tickvals=X_MINOR, showgrid=True,
                   gridcolor="white", gridwidth=0.6, ticks=""),
    )
    layout_axes["yaxis" + sfx] = dict(
        domain=[1 - pb / FH, 1 - pt / FH], anchor="x" + sfx,
        range=yr, tickmode="array", tickvals=ticks, ticktext=labels,
        ticks="outside", ticklen=3.3, tickwidth=1.1, tickcolor="#333333",
        tickfont=TICK_FONT,
        showgrid=True, gridcolor="white", gridwidth=1.25,
        zeroline=False, showline=False, fixedrange=True,
        minor=dict(tickmode="array", tickvals=minors, showgrid=True,
                   gridcolor="white", gridwidth=0.6, ticks=""),
    )

    shapes.append(dict(type="rect", xref="paper", yref="paper",
                       x0=x0 / FW, x1=x1 / FW, y0=1 - pt / FH, y1=1 - st / FH,
                       fillcolor="#D9D9D9", line=dict(width=0), layer="below"))
    annotations.append(dict(text=str(n), xref="paper", yref="paper",
                            x=(x0 + x1) / 2 / FW, y=1 - (st + pt) / 2 / FH,
                            xanchor="center", yanchor="middle", showarrow=False,
                            font=dict(family=FONT, size=10.8, color="#1A1A1A")))

cscale = [[(v - CMIN) / (CMAX - CMIN), col] for v, col in CSTOPS]

# colour legend: a smooth heatmap strip on its own axis pair, value axis = "mean"
fig.add_trace(go.Heatmap(
    z=[[CMIN, CMIN], [CMAX, CMAX]], x=[0, 1], y=[CMIN, CMAX],
    colorscale=cscale, zmin=CMIN, zmax=CMAX, zsmooth="best",
    showscale=False, hoverinfo="skip", xaxis="x37", yaxis="y37",
))
layout_axes["xaxis37"] = dict(domain=[LEG_X0 / FW, LEG_X1 / FW], anchor="y37",
                              range=[0, 1], visible=False, fixedrange=True)
layout_axes["yaxis37"] = dict(
    domain=[1 - LEG_Y1 / FH, 1 - LEG_Y0 / FH], anchor="x37",
    range=[CMIN, CMAX], side="right", tickmode="array", tickvals=LEGEND_TICKS,
    ticktext=[str(t) for t in LEGEND_TICKS],
    ticks="inside", ticklen=3.9, tickwidth=1, tickcolor="white", mirror="ticks",
    showgrid=False, zeroline=False, showline=False, fixedrange=True,
    tickfont=dict(family=FONT, size=10.8, color="#1A1A1A"),
)
annotations.append(dict(text="mean", xref="paper", yref="paper",
                        x=LEG_X0 / FW, y=1 - 405 / FH,
                        xanchor="left", yanchor="middle", showarrow=False,
                        font=dict(family=FONT, size=13.5, color="#1A1A1A")))

panel_bottom = ROW_Y0 + 8 * ROW_PITCH + STRIP_H + PANEL_H
annotations.append(dict(text="Year", xref="paper", yref="paper",
                        x=(COL_X0[0] + COL_X0[3] + PANEL_W) / 2 / FW, y=1 - 915 / FH,
                        xanchor="center", yanchor="middle", showarrow=False,
                        font=dict(family=FONT, size=13.5, color="#000000")))
annotations.append(dict(text="prevalence", xref="paper", yref="paper",
                        x=13 / FW, y=1 - (ROW_Y0 + panel_bottom) / 2 / FH, textangle=-90,
                        xanchor="center", yanchor="middle", showarrow=False,
                        font=dict(family=FONT, size=13.5, color="#000000")))

fig.update_layout(
    width=FW, height=FH, autosize=False,
    margin=dict(l=0, r=0, t=0, b=0, autoexpand=False),
    paper_bgcolor="white", plot_bgcolor="#EBEBEB",
    showlegend=False,
    shapes=shapes, annotations=annotations,
    **layout_axes,
)

# the page body has a default 8px margin; remove it so the figure's pixels
# line up with the browser window
fig.write_html(
    "out.html",
    config={"displayModeBar": False},
    post_script="document.body.style.margin='0px';document.documentElement.style.overflow='hidden';",
)
